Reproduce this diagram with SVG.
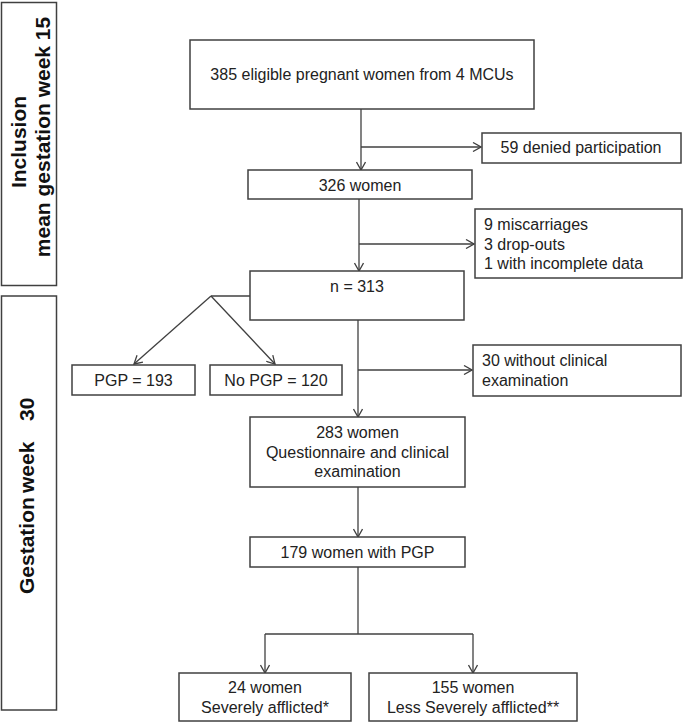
<svg xmlns="http://www.w3.org/2000/svg" width="685" height="723" viewBox="0 0 685 723">
<defs>
<style>
.box{fill:#fff;stroke:#404040;stroke-width:1.5}
.t{font-family:"Liberation Sans",Arial,sans-serif;font-size:16px;fill:#222}
.c{text-anchor:middle}
.side{font-family:"Liberation Sans",Arial,sans-serif;font-size:21px;font-weight:bold;fill:#111}
.ln{fill:none;stroke:#404040;stroke-width:1.3}
</style>
<marker id="ah" viewBox="0 0 10 10" refX="9" refY="5" markerWidth="10" markerHeight="10" markerUnits="userSpaceOnUse" orient="auto">
<path d="M1,0.5 L9,5 L1,9.5" fill="none" stroke="#404040" stroke-width="1.3"/>
</marker>
</defs>
<rect width="685" height="723" fill="#fff"/>

<g id="phase-inclusion">
<rect class="box" x="1.5" y="2.5" width="55" height="283"/>
<text class="side" text-anchor="middle" transform="translate(26,142) rotate(-90)">Inclusion</text>
<text class="side" text-anchor="middle" transform="translate(50,137) rotate(-90)">mean gestation week 15</text>
</g>
<g id="phase-week30">
<rect class="box" x="1.5" y="296" width="55" height="414"/>
<text class="side" font-size="20" transform="translate(34,594) rotate(-90)"><tspan x="0">Gestation</tspan><tspan x="101">week</tspan><tspan x="173">30</tspan></text>
</g>

<g id="connectors">
<line class="ln" x1="361" y1="109" x2="361" y2="170" marker-end="url(#ah)"/>
<line class="ln" x1="361" y1="147" x2="481" y2="147" marker-end="url(#ah)"/>
<line class="ln" x1="359" y1="199" x2="359" y2="271" marker-end="url(#ah)"/>
<line class="ln" x1="359" y1="244" x2="474" y2="244" marker-end="url(#ah)"/>
<polyline class="ln" points="250,296 211,296"/>
<line class="ln" x1="211" y1="296" x2="134" y2="364" marker-end="url(#ah)"/>
<line class="ln" x1="211" y1="296" x2="275" y2="364" marker-end="url(#ah)"/>
<line class="ln" x1="358" y1="320" x2="358" y2="417" marker-end="url(#ah)"/>
<line class="ln" x1="358" y1="370" x2="472" y2="370" marker-end="url(#ah)"/>
<line class="ln" x1="358" y1="487" x2="358" y2="537" marker-end="url(#ah)"/>
<polyline class="ln" points="358,567 358,634"/>
<polyline class="ln" points="265,634 473,634"/>
<line class="ln" x1="265" y1="634" x2="265" y2="673" marker-end="url(#ah)"/>
<line class="ln" x1="473" y1="634" x2="473" y2="673" marker-end="url(#ah)"/>
</g>

<g id="n-eligible">
<rect class="box" x="190" y="40" width="344" height="69"/>
<text class="t c" x="362" y="80">385 eligible pregnant women from 4 MCUs</text>
</g>
<g id="n-denied">
<rect class="box" x="482" y="133" width="199" height="30"/>
<text class="t c" x="581" y="153">59 denied participation</text>
</g>
<g id="n-326">
<rect class="box" x="248" y="170" width="224" height="29"/>
<text class="t c" x="360" y="191">326 women</text>
</g>
<g id="n-lost">
<rect class="box" x="475" y="209" width="207" height="69"/>
<text class="t" x="484" y="230">9 miscarriages</text>
<text class="t" x="484" y="250">3 drop-outs</text>
<text class="t" x="484" y="269">1 with incomplete data</text>
</g>
<g id="n-313">
<rect class="box" x="250" y="271" width="214" height="49"/>
<text class="t c" x="357" y="292">n = 313</text>
</g>
<g id="n-pgp">
<rect class="box" x="72" y="365" width="123" height="30"/>
<text class="t c" x="133.5" y="386">PGP = 193</text>
</g>
<g id="n-nopgp">
<rect class="box" x="210" y="365" width="132" height="30"/>
<text class="t c" x="276" y="386">No PGP = 120</text>
</g>
<g id="n-noexam">
<rect class="box" x="473" y="345" width="208" height="51"/>
<text class="t" x="482" y="366">30 without  clinical</text>
<text class="t" x="482" y="386">examination</text>
</g>
<g id="n-283">
<rect class="box" x="250" y="417" width="215" height="70"/>
<text class="t c" x="357.5" y="438">283 women</text>
<text class="t c" x="357.5" y="458">Questionnaire  and clinical</text>
<text class="t c" x="357.5" y="477">examination</text>
</g>
<g id="n-179">
<rect class="box" x="250" y="537" width="215" height="30"/>
<text class="t c" x="357.5" y="558">179 women with PGP</text>
</g>
<g id="n-severe">
<rect class="box" x="179" y="673" width="172" height="48"/>
<text class="t c" x="265" y="693">24 women</text>
<text class="t c" x="265" y="713">Severely  afflicted*</text>
</g>
<g id="n-less">
<rect class="box" x="369" y="673" width="208" height="48"/>
<text class="t c" x="473" y="693">155 women</text>
<text class="t c" x="473" y="713">Less Severely  afflicted**</text>
</g>
</svg>
